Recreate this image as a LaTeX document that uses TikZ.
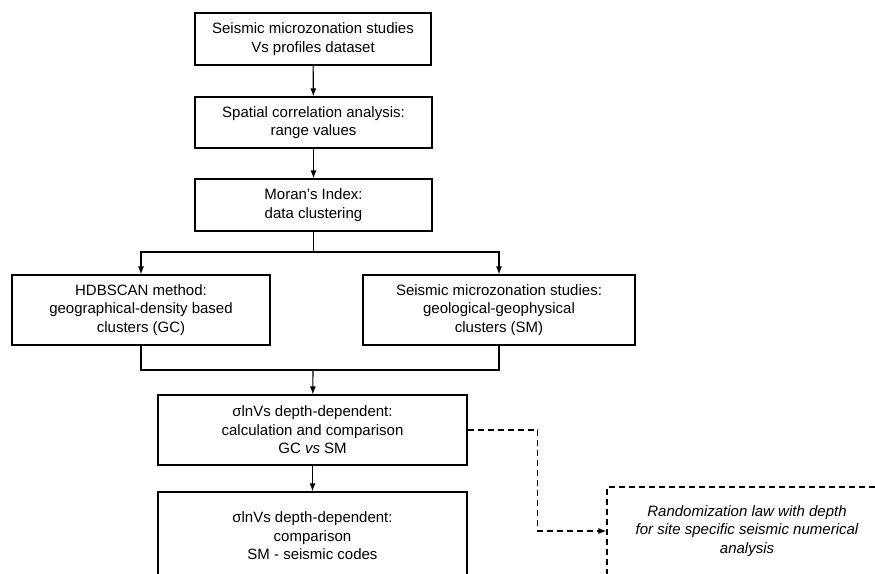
\documentclass[tikz,border=0pt]{standalone}
\usepackage{fontspec}
\setmainfont{Liberation Sans}
\usetikzlibrary{positioning, arrows.meta}

\begin{document}
\begin{tikzpicture}[x=1pt, y=-1pt, >={Latex[length=8pt, width=6pt]},
		stepbox/.style={draw, black, line width=1.1pt, align=center, inner sep=0pt,
			font=\fontsize{15}{18.5}\selectfont},
		flow/.style={black, line width=1.1pt},
		dashline/.style={dash pattern=on 6pt off 4pt}]
		\useasboundingbox (0,0) rectangle (875,573);
		\clip (0,0) rectangle (875,573);
%
		\node[stepbox, minimum width=236pt, minimum height=52pt] (data) at (313,39) {Seismic microzonation studies\\Vs profiles dataset};
		\node[stepbox, minimum width=237pt, minimum height=51pt] (corr) at (313.5,122.5) {Spatial correlation analysis:\\range values};
		\node[stepbox, minimum width=237pt, minimum height=52pt] (moran) at (313.5,205) {Moran's Index:\\data clustering};
		\node[stepbox, minimum width=258pt, minimum height=70pt] (hdb) at (141,310) {HDBSCAN method:\\geographical-density based\\clusters (GC)};
		\node[stepbox, minimum width=272pt, minimum height=70pt] (smc) at (499,310) {Seismic microzonation studies:\\geological-geophysical\\clusters (SM)};
		\node[stepbox, minimum width=309pt, minimum height=70pt] (sigcalc) at (312.5,430) {σlnVs depth-dependent:\\calculation and comparison\\GC \textit{vs} SM};
		\node[stepbox, minimum width=309pt, minimum height=88pt] (sigcode) at (312.5,536) {σlnVs depth-dependent:\\comparison\\SM - seismic codes};
		\node[stepbox, dashline, minimum width=280pt, minimum height=88pt] (rand) at (747,531) {\itshape Randomization law with depth\\\itshape for site specific seismic numerical\\\itshape analysis};
%
		\coordinate (split) at (313.5,252);
		\coordinate (merge) at (313,370);
		\draw[flow] [->] (data) -- (corr);
		\draw[flow] [->] (corr) -- (moran);
		\draw[flow] (moran) -- (split);
		\draw[flow] [->] (split) -| (hdb);
		\draw[flow] [->] (split) -| (smc);
		\draw[flow] (hdb) |- (merge);
		\draw[flow] (smc) |- (merge);
		\draw[flow] [->] (merge) -- (sigcalc);
		\draw[flow] [->] (sigcalc) -- (sigcode);
		\draw[flow, dashline] [->] (sigcalc.east) -- ++(70,0) |- (rand.west); % to the randomization box
\end{tikzpicture}
\end{document}
